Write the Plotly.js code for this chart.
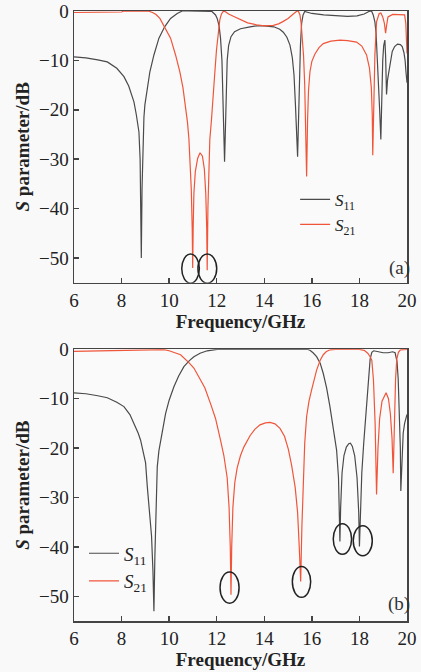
<!DOCTYPE html>
<html>
<head>
<meta charset="utf-8">
<script src="https://cdn.plot.ly/plotly-3.0.1.min.js"></script>
<style>html,body{margin:0;padding:0;background:#fff;}#chart{width:421px;height:672px;}</style>
</head>
<body>
<div id="chart"></div>
<script>
// ---- Panel (a) ----
const freqA_S11 = [6.0,6.5,7.0,7.4,7.8,8.1,8.3,8.52,8.62,8.73,8.78,8.81,8.83,8.86,8.9,8.94,8.98,9.08,9.19,9.36,9.57,9.81,10.06,10.34,10.55,10.8,11.2,11.6,11.8,11.95,12.02,12.1,12.16,12.22,12.27,12.3,12.33,12.36,12.4,12.44,12.5,12.6,12.75,13.0,13.4,13.7,14.0,14.4,14.65,14.8,14.95,15.08,15.18,15.25,15.31,15.36,15.4,15.44,15.48,15.52,15.57,15.63,15.7,15.8,16.0,16.5,17.0,17.5,17.9,18.2,18.4,18.51,18.58,18.65,18.7,18.75,18.8,18.85,18.9,18.94,18.98,19.02,19.07,19.1,19.14,19.18,19.24,19.3,19.38,19.48,19.6,19.72,19.8,19.87,19.92,19.96,20.0];
const S11_A = [-9.3,-9.5,-9.9,-10.3,-11.6,-13.3,-15.2,-18.4,-21,-24.5,-30,-38,-50,-36,-26,-21.5,-19,-15.5,-12.3,-8.9,-5.5,-3.2,-1.5,-0.5,0,0,0,0,-0.1,-0.8,-1.5,-3,-5.5,-10,-18,-24,-30.5,-25,-15,-10,-7,-5.2,-4.2,-3.6,-3.2,-3.0,-3.0,-3.2,-3.7,-4.3,-5.3,-6.9,-9.5,-13,-19,-25.8,-29.5,-22,-14,-7,-2.5,-0.8,-0.1,-0.2,-0.5,-0.8,-1.0,-1.1,-1.0,-0.6,-0.1,0,-0.8,-2.2,-4.5,-9,-14,-20,-26,-16,-10,-7,-5.9,-9,-16.9,-14,-12.3,-10,-8.2,-7.2,-6.7,-6.8,-7.2,-8.4,-10,-12.5,-14.5];
const freqA_S21 = [6.0,7.0,8.0,8.1,9.0,9.15,9.3,9.45,9.61,9.81,10.06,10.27,10.45,10.58,10.69,10.77,10.83,10.88,10.93,10.97,10.99,11.01,11.04,11.1,11.2,11.3,11.4,11.48,11.54,11.58,11.6,11.63,11.68,11.71,11.78,11.85,11.92,11.99,12.06,12.13,12.2,12.28,12.35,12.5,12.72,13.0,13.3,13.68,14.0,14.38,14.6,14.8,15.0,15.22,15.35,15.43,15.5,15.55,15.6,15.65,15.7,15.74,15.78,15.82,15.86,15.92,16.0,16.13,16.3,16.48,16.8,17.18,17.5,17.88,18.1,18.3,18.42,18.5,18.54,18.56,18.6,18.65,18.72,18.78,18.83,18.9,18.98,19.05,19.1,19.14,19.2,19.4,19.7,19.9,19.95,20.0];
const S21_A = [-0.3,-0.3,-0.2,0,0,-0.05,-0.3,-0.7,-1.5,-3.2,-5.5,-8.9,-12.3,-15.5,-19,-22.5,-25.8,-30,-36,-44,-52,-44,-37,-32.5,-29.8,-28.7,-29.4,-32,-37,-44,-52.5,-40,-30,-26,-22,-18,-12.5,-7.9,-4.5,-1.8,-0.6,-0.05,-0.1,-0.6,-1.1,-1.8,-2.4,-2.8,-3.0,-2.9,-2.6,-2.1,-1.5,-0.6,-0.1,0,-0.8,-2.5,-5,-9,-15,-22,-33.5,-22,-16,-12.3,-10.2,-8.7,-7.4,-6.6,-6.1,-5.9,-6.0,-6.3,-7.1,-8.9,-11.5,-15.5,-21,-29.2,-18,-8.9,-2.2,-1.0,-0.5,-0.4,-1.2,-2.5,-4.5,-3.0,-1.2,-0.7,-0.7,-0.8,-2.5,-8.6];

// ---- Panel (b) ----
const freqB_S11 = [6.0,6.5,7.0,7.4,7.8,8.1,8.35,8.52,8.7,8.8,8.92,9.01,9.08,9.16,9.26,9.32,9.36,9.4,9.45,9.5,9.57,9.64,9.75,9.85,10.0,10.2,10.4,10.62,10.85,11.04,11.3,11.6,12.02,13.0,14.0,15.0,15.8,15.92,16.05,16.2,16.35,16.48,16.62,16.76,16.9,17.04,17.12,17.16,17.18,17.21,17.27,17.35,17.45,17.55,17.62,17.7,17.8,17.9,17.97,18.0,18.04,18.1,18.18,18.24,18.3,18.38,18.45,18.52,18.6,18.8,19.0,19.2,19.4,19.5,19.58,19.63,19.68,19.72,19.74,19.78,19.84,19.9,20.0];
const S11_B = [-8.8,-9.0,-9.4,-9.8,-10.7,-11.6,-13.2,-15,-17,-18.4,-20.8,-23,-27.7,-32,-37.8,-45,-53,-42,-30,-23.8,-20.5,-18.4,-15.5,-13,-10.3,-7.6,-5.4,-3.5,-2.3,-1.5,-0.8,-0.3,0,0,0,0,0,-0.2,-0.7,-1.5,-2.8,-4.9,-7.8,-11.6,-15.8,-20.4,-26,-33,-38.9,-32,-25,-21.5,-19.8,-19.1,-19.0,-19.6,-21.5,-26,-33,-39.9,-32,-25,-19,-15,-10,-4.9,-2,-0.6,-0.3,-0.5,-0.7,-0.7,-0.5,-0.7,-2.5,-6,-13,-20,-28.7,-22,-17,-15,-13.2];
const freqB_S21 = [6.0,7.0,8.0,8.66,9.0,9.6,9.78,10.0,10.2,10.48,10.83,11.04,11.32,11.5,11.74,11.95,12.16,12.3,12.44,12.52,12.57,12.6,12.63,12.68,12.76,12.86,13.0,13.14,13.4,13.6,13.82,14.05,14.24,14.45,14.66,14.85,15.01,15.15,15.3,15.4,15.47,15.53,15.58,15.64,15.7,15.78,15.88,15.99,16.1,16.2,16.35,16.48,16.6,16.76,17.0,18.0,18.2,18.35,18.45,18.52,18.59,18.66,18.72,18.78,18.85,18.95,19.12,19.22,19.3,19.37,19.42,19.47,19.52,19.57,19.64,19.72,20.0];
const S21_B = [-0.4,-0.3,-0.2,-0.1,0,0,-0.05,-0.3,-0.6,-1.1,-2.7,-3.8,-6.2,-7.8,-11,-14,-18.4,-21.5,-26,-32,-40,-49.7,-40,-32,-27,-24,-21.5,-19.8,-17.5,-16.2,-15.3,-14.9,-14.8,-15.1,-16,-17.6,-20.2,-23.5,-28,-33,-40,-47,-36,-27,-19,-13.6,-10.5,-8.2,-5.8,-4.2,-2.2,-1.1,-0.5,-0.1,0,0,-0.2,-0.8,-1.5,-2.2,-6.2,-15,-29.4,-20,-14,-10.5,-8.8,-10,-13,-18,-25.1,-15,-6,-2,-0.6,-0.1,0];

const xTicks = [6,8,10,12,14,16,18,20];
const yTicks = [0,-10,-20,-30,-40,-50];
const legendNames = ['<i>S</i><sub>11</sub>','<i>S</i><sub>21</sub>'];

const cS11 = '#4a4a4a', cS21 = '#f0553a';
const serif = 'Liberation Serif, Times New Roman, serif';

const traces = [
  {x: freqA_S11, y: S11_A, type:'scatter', mode:'lines', name: legendNames[0], line:{color:cS11, width:1.2}, xaxis:'x', yaxis:'y', legend:'legend'},
  {x: freqA_S21, y: S21_A, type:'scatter', mode:'lines', name: legendNames[1], line:{color:cS21, width:1.2}, xaxis:'x', yaxis:'y', legend:'legend'},
  {x: freqB_S11, y: S11_B, type:'scatter', mode:'lines', name: legendNames[0], line:{color:cS11, width:1.2}, xaxis:'x2', yaxis:'y2', legend:'legend2'},
  {x: freqB_S21, y: S21_B, type:'scatter', mode:'lines', name: legendNames[1], line:{color:cS21, width:1.2}, xaxis:'x2', yaxis:'y2', legend:'legend2'}
];

function xax(anchor){
  return {range:[6,20], tickvals:xTicks, ticktext:xTicks.map(String), ticks:'inside', ticklen:5, tickwidth:1.5, tickcolor:'#444',
    showline:true, linecolor:'#444', linewidth:1.5, mirror:true, showgrid:false, zeroline:false, anchor:anchor,
    tickfont:{family:serif, size:19, color:'#222'},
    title:{text:'<b>Frequency/GHz</b>', font:{family:serif, size:19, color:'#222'}, standoff:4}};
}
function yax(anchor, domain){
  return {range:[-55,0], tickvals:yTicks, ticks:'inside', ticklen:5, tickwidth:1.5, tickcolor:'#444',
    showline:true, linecolor:'#444', linewidth:1.5, mirror:true, showgrid:false, zeroline:false, anchor:anchor, domain:domain,
    tickfont:{family:serif, size:19, color:'#222'},
    title:{text:'<b><i>S</i> parameter/dB</b>', font:{family:serif, size:19, color:'#222'}, standoff:4}};
}

function ell(xr, yr, x0, x1, y0, y1){
  return {type:'circle', xref:xr, yref:yr, x0:x0, x1:x1, y0:y0, y1:y1, line:{color:'#222', width:1.5}};
}

const layout = {
  width:421, height:672,
  margin:{l:74, r:14, t:11, b:51},
  paper_bgcolor:'#f9f9f9', plot_bgcolor:'#fafafa',
  showlegend:true,
  xaxis: xax('y'),
  yaxis: yax('x', [0.5546, 1]),
  xaxis2: xax('y2'),
  yaxis2: yax('x2', [0, 0.4454]),
  legend:{x:0.664, y:0.72, xanchor:'left', yanchor:'top', bgcolor:'rgba(0,0,0,0)', font:{family:serif, size:17, color:'#222'}, tracegroupgap:0},
  legend2:{x:0.03, y:0.142, xanchor:'left', yanchor:'top', bgcolor:'rgba(0,0,0,0)', font:{family:serif, size:19, color:'#222'}, tracegroupgap:0},
  shapes:[
    ell('x','y',10.53,11.27,-55.1,-49.2),
    ell('x','y',11.21,12.0,-55.1,-49.2),
    ell('x2','y2',12.14,12.94,-51.4,-45.1),
    ell('x2','y2',15.18,15.95,-50.2,-43.95),
    ell('x2','y2',16.9,17.67,-41.5,-35.3),
    ell('x2','y2',17.74,18.54,-41.8,-35.7)
  ],
  annotations:[
    {text:'(a)', xref:'x', yref:'y', x:19.67, y:-52.0, showarrow:false, font:{family:serif, size:19, color:'#333'}},
    {text:'(b)', xref:'x2', yref:'y2', x:19.67, y:-51.5, showarrow:false, font:{family:serif, size:19, color:'#333'}}
  ]
};

Plotly.newPlot('chart', traces, layout, {displayModeBar:false, staticPlot:true});
</script>
</body>
</html>
